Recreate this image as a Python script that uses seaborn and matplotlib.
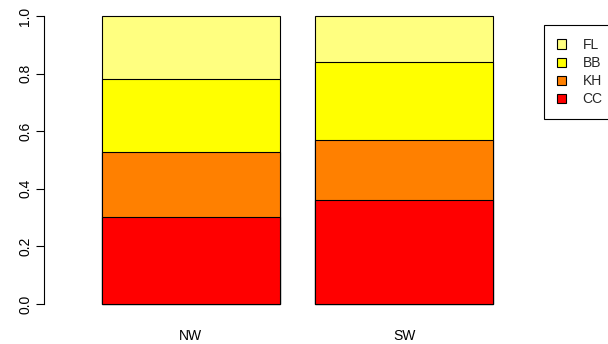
import pandas as pd
import numpy as np
import matplotlib
matplotlib.use('Agg')
import matplotlib.pyplot as plt
import seaborn as sns
from matplotlib.patches import Patch

# stacked proportions
groups = ['NW', 'SW']
cc = [0.303, 0.361]
kh = [0.224, 0.207]
bb = [0.255, 0.273]
fl = [0.218, 0.159]

layers = ['CC', 'KH', 'BB', 'FL']
colors = {'CC': '#FF0000', 'KH': '#FF8000', 'BB': '#FFFF00', 'FL': '#FFFF80'}

df = pd.DataFrame({'group': groups, 'CC': cc, 'KH': kh, 'BB': bb, 'FL': fl})
cum = df[layers].cumsum(axis=1)
cum['group'] = df['group']

sns.set_style('white')
plt.rcParams['font.family'] = ['Liberation Sans', 'DejaVu Sans']
plt.rcParams['font.size'] = 10

fig = plt.figure(figsize=(6.08, 3.44), dpi=100)
ax = fig.add_axes([44 / 608, 1 - 315.5 / 344, (509 - 44) / 608, 311 / 344])

# draw from the top layer down so each lower segment covers the one above
for layer in layers[::-1]:
    sns.barplot(data=cum, x='group', y=layer, color=colors[layer], width=0.833,
                saturation=1, edgecolor='black', linewidth=0.8, errorbar=None, ax=ax)

ax.set_xlim(-0.687, 1.49)
ax.set_ylim(-0.04, 1.04)
ax.set_xlabel('')
ax.set_ylabel('')
ax.set_yticks([0, 0.2, 0.4, 0.6, 0.8, 1.0])
ax.set_yticklabels(['0.0', '0.2', '0.4', '0.6', '0.8', '1.0'], rotation=90, va='center')
for s in ['top', 'right', 'bottom']:
    ax.spines[s].set_visible(False)
ax.spines['left'].set_bounds(0, 1)
ax.spines['left'].set_color('black')
ax.spines['left'].set_linewidth(0.8)
ax.tick_params(axis='y', left=True, length=5.5, width=0.8, color='black', pad=3, labelcolor='black')
ax.tick_params(axis='x', bottom=False, length=0, pad=10, labelcolor='black')

handles = [Patch(facecolor=colors[l], edgecolor='black', linewidth=0.8, label=l) for l in layers[::-1]]
leg = fig.legend(handles=handles, loc='upper left', bbox_to_anchor=(544 / 608, 1 - 25 / 344),
                 borderaxespad=0, fancybox=False, framealpha=1, edgecolor='black',
                 handlelength=0.65, handleheight=0.65, handletextpad=1.2,
                 labelspacing=0.3, borderpad=0.93, fontsize=10)
leg.get_frame().set_linewidth(0.8)

fig.savefig('out.png', dpi=100)
